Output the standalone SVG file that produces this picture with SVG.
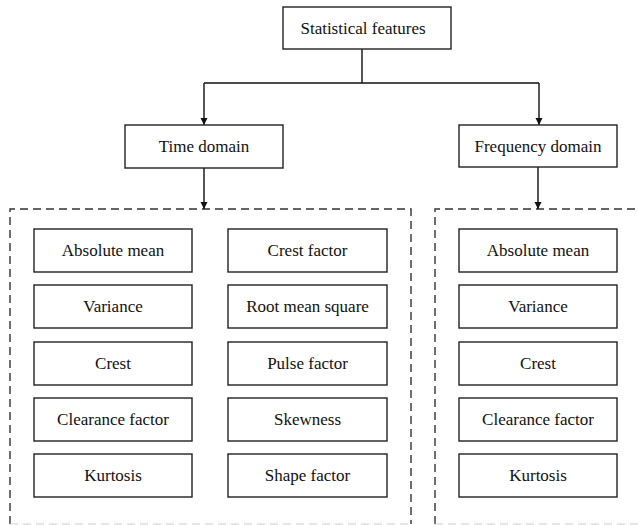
<svg xmlns="http://www.w3.org/2000/svg" width="638" height="525" viewBox="0 0 638 525">
<defs>
<marker id="arr" viewBox="0 0 10 10" refX="10" refY="5" markerWidth="7" markerHeight="8" markerUnits="userSpaceOnUse" orient="auto">
<path d="M0,0 L10,5 L0,10 z" fill="#111"/>
</marker>
<style>
.box{fill:#fff;stroke:#222;stroke-width:1.4}
.dash{fill:none;stroke:#333;stroke-width:1.4;stroke-dasharray:8,5}
.line{fill:none;stroke:#111;stroke-width:1.4}
text{font-family:"Liberation Serif","Times New Roman",serif;font-size:17px;fill:#111;text-anchor:middle;dominant-baseline:central}
</style>
</defs>
<rect width="638" height="525" fill="#fff"/>
<g id="groups">
<path class="dash" d="M10,524 V209 H411 V524"/>
<path class="dash" d="M435,524 V209 H640"/>
<path d="M10,524 H411 M435,524 H640" fill="none" stroke="#ccc" stroke-width="1.2" stroke-dasharray="8,5"/>
</g>
<g id="connectors">
<path class="line" d="M362,49 V83"/>
<path class="line" d="M204,83 H539"/>
<path class="line" d="M204,83 V125" marker-end="url(#arr)"/>
<path class="line" d="M539,83 V125" marker-end="url(#arr)"/>
<path class="line" d="M204,168 V209" marker-end="url(#arr)"/>
<path class="line" d="M538,167 V209" marker-end="url(#arr)"/>
</g>
<g id="root"><rect class="box" x="283" y="7" width="168" height="42"/><text x="363" y="28">Statistical features</text></g>
<g id="time"><rect class="box" x="125" y="125" width="158" height="43"/><text x="204" y="146.5">Time domain</text></g>
<g id="freq"><rect class="box" x="459" y="125" width="158" height="42"/><text x="538" y="146">Frequency domain</text></g>
<g id="t1"><rect class="box" x="34" y="229" width="158" height="43"/><text x="113" y="250.5">Absolute mean</text></g>
<g id="t2"><rect class="box" x="34" y="285" width="158" height="43"/><text x="113" y="306.5">Variance</text></g>
<g id="t3"><rect class="box" x="34" y="342" width="158" height="43"/><text x="113" y="363.5">Crest</text></g>
<g id="t4"><rect class="box" x="34" y="398" width="158" height="43"/><text x="113" y="419.5">Clearance factor</text></g>
<g id="t5"><rect class="box" x="34" y="454" width="158" height="43"/><text x="113" y="475.5">Kurtosis</text></g>
<g id="t6"><rect class="box" x="228" y="229" width="159" height="43"/><text x="307.5" y="250.5">Crest factor</text></g>
<g id="t7"><rect class="box" x="228" y="285" width="159" height="43"/><text x="307.5" y="306.5">Root mean square</text></g>
<g id="t8"><rect class="box" x="228" y="342" width="159" height="43"/><text x="307.5" y="363.5">Pulse factor</text></g>
<g id="t9"><rect class="box" x="228" y="398" width="159" height="43"/><text x="307.5" y="419.5">Skewness</text></g>
<g id="t10"><rect class="box" x="228" y="454" width="159" height="43"/><text x="307.5" y="475.5">Shape factor</text></g>
<g id="f1"><rect class="box" x="459" y="229" width="158" height="43"/><text x="538" y="250.5">Absolute mean</text></g>
<g id="f2"><rect class="box" x="459" y="285" width="158" height="43"/><text x="538" y="306.5">Variance</text></g>
<g id="f3"><rect class="box" x="459" y="342" width="158" height="43"/><text x="538" y="363.5">Crest</text></g>
<g id="f4"><rect class="box" x="459" y="398" width="158" height="43"/><text x="538" y="419.5">Clearance factor</text></g>
<g id="f5"><rect class="box" x="459" y="454" width="158" height="43"/><text x="538" y="475.5">Kurtosis</text></g>
</svg>
